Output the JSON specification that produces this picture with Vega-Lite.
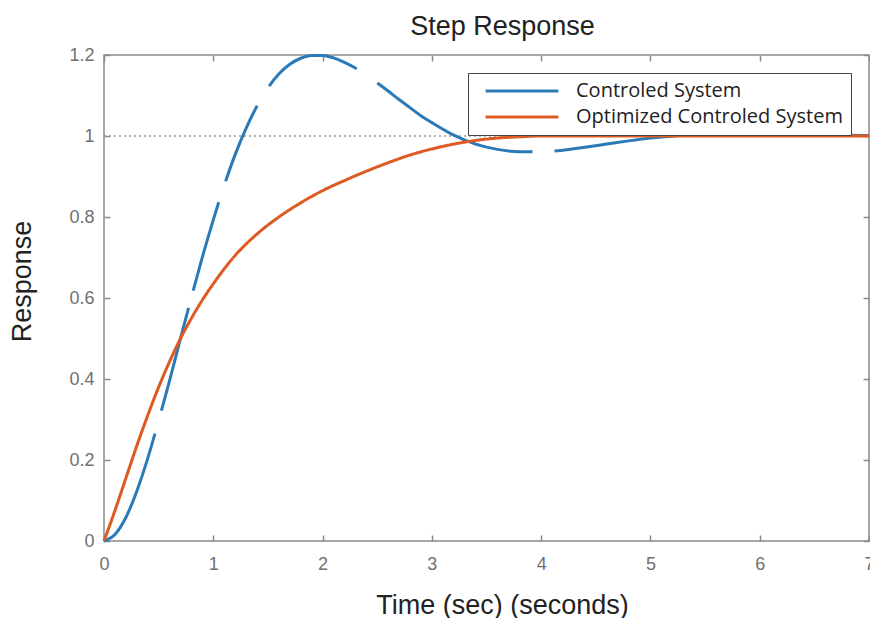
{
  "$schema": "https://vega.github.io/schema/vega-lite/v6.json",
  "width": 765,
  "height": 486,
  "autosize": {"type": "none"},
  "padding": {"left": 104, "top": 55, "right": 1, "bottom": 77},
  "background": "white",
  "title": {"text": "Step Response", "fontSize": 27, "font": "Liberation Sans", "fontWeight": "normal", "color": "#222222", "offset": 5, "dx": 16},
  "datasets": {
    "ref": [{"level": 1}],
    "resp": [
      {"t": 0, "y": 0, "series": "Controled System"},
      {"t": 0.1, "y": 0.016, "series": "Controled System"},
      {"t": 0.2, "y": 0.058, "series": "Controled System"},
      {"t": 0.3, "y": 0.123, "series": "Controled System"},
      {"t": 0.4, "y": 0.204, "series": "Controled System"},
      {"t": 0.5, "y": 0.297, "series": "Controled System"},
      {"t": 0.6, "y": 0.396, "series": "Controled System"},
      {"t": 0.7, "y": 0.5, "series": "Controled System"},
      {"t": 0.8, "y": 0.602, "series": "Controled System"},
      {"t": 0.9, "y": 0.701, "series": "Controled System"},
      {"t": 1.0, "y": 0.793, "series": "Controled System"},
      {"t": 1.1, "y": 0.878, "series": "Controled System"},
      {"t": 1.2, "y": 0.954, "series": "Controled System"},
      {"t": 1.3, "y": 1.019, "series": "Controled System"},
      {"t": 1.4, "y": 1.074, "series": "Controled System"},
      {"t": 1.5, "y": 1.119, "series": "Controled System"},
      {"t": 1.6, "y": 1.153, "series": "Controled System"},
      {"t": 1.7, "y": 1.177, "series": "Controled System"},
      {"t": 1.8, "y": 1.192, "series": "Controled System"},
      {"t": 1.9, "y": 1.199, "series": "Controled System"},
      {"t": 2.0, "y": 1.199, "series": "Controled System"},
      {"t": 2.1, "y": 1.193, "series": "Controled System"},
      {"t": 2.2, "y": 1.182, "series": "Controled System"},
      {"t": 2.3, "y": 1.168, "series": "Controled System"},
      {"t": 2.4, "y": 1.15, "series": "Controled System"},
      {"t": 2.5, "y": 1.131, "series": "Controled System"},
      {"t": 2.6, "y": 1.111, "series": "Controled System"},
      {"t": 2.7, "y": 1.09, "series": "Controled System"},
      {"t": 2.8, "y": 1.07, "series": "Controled System"},
      {"t": 2.9, "y": 1.05, "series": "Controled System"},
      {"t": 3.0, "y": 1.033, "series": "Controled System"},
      {"t": 3.2, "y": 1.002, "series": "Controled System"},
      {"t": 3.4, "y": 0.98, "series": "Controled System"},
      {"t": 3.6, "y": 0.967, "series": "Controled System"},
      {"t": 3.8, "y": 0.961, "series": "Controled System"},
      {"t": 4.0, "y": 0.961, "series": "Controled System"},
      {"t": 4.2, "y": 0.965, "series": "Controled System"},
      {"t": 4.4, "y": 0.972, "series": "Controled System"},
      {"t": 4.6, "y": 0.98, "series": "Controled System"},
      {"t": 4.8, "y": 0.988, "series": "Controled System"},
      {"t": 5.0, "y": 0.995, "series": "Controled System"},
      {"t": 5.5, "y": 1.004, "series": "Controled System"},
      {"t": 6.0, "y": 1.005, "series": "Controled System"},
      {"t": 6.5, "y": 1.003, "series": "Controled System"},
      {"t": 7.0, "y": 1.001, "series": "Controled System"},
      {"t": 0, "y": 0, "series": "Optimized Controled System"},
      {"t": 0.1, "y": 0.075, "series": "Optimized Controled System"},
      {"t": 0.2, "y": 0.155, "series": "Optimized Controled System"},
      {"t": 0.3, "y": 0.235, "series": "Optimized Controled System"},
      {"t": 0.4, "y": 0.31, "series": "Optimized Controled System"},
      {"t": 0.5, "y": 0.38, "series": "Optimized Controled System"},
      {"t": 0.6, "y": 0.443, "series": "Optimized Controled System"},
      {"t": 0.7, "y": 0.5, "series": "Optimized Controled System"},
      {"t": 0.8, "y": 0.55, "series": "Optimized Controled System"},
      {"t": 0.9, "y": 0.595, "series": "Optimized Controled System"},
      {"t": 1.0, "y": 0.635, "series": "Optimized Controled System"},
      {"t": 1.2, "y": 0.705, "series": "Optimized Controled System"},
      {"t": 1.4, "y": 0.758, "series": "Optimized Controled System"},
      {"t": 1.6, "y": 0.8, "series": "Optimized Controled System"},
      {"t": 1.8, "y": 0.835, "series": "Optimized Controled System"},
      {"t": 2.0, "y": 0.865, "series": "Optimized Controled System"},
      {"t": 2.2, "y": 0.89, "series": "Optimized Controled System"},
      {"t": 2.4, "y": 0.913, "series": "Optimized Controled System"},
      {"t": 2.6, "y": 0.934, "series": "Optimized Controled System"},
      {"t": 2.8, "y": 0.953, "series": "Optimized Controled System"},
      {"t": 3.0, "y": 0.968, "series": "Optimized Controled System"},
      {"t": 3.2, "y": 0.98, "series": "Optimized Controled System"},
      {"t": 3.4, "y": 0.989, "series": "Optimized Controled System"},
      {"t": 3.6, "y": 0.995, "series": "Optimized Controled System"},
      {"t": 3.8, "y": 0.998, "series": "Optimized Controled System"},
      {"t": 4.0, "y": 1.0, "series": "Optimized Controled System"},
      {"t": 4.5, "y": 1.0, "series": "Optimized Controled System"},
      {"t": 5.0, "y": 1.0, "series": "Optimized Controled System"},
      {"t": 5.5, "y": 1.0, "series": "Optimized Controled System"},
      {"t": 6.0, "y": 1.0, "series": "Optimized Controled System"},
      {"t": 6.5, "y": 1.0, "series": "Optimized Controled System"},
      {"t": 7.0, "y": 1.0, "series": "Optimized Controled System"}
    ]
  },
  "config": {
    "view": {"stroke": "#8a8a8a", "strokeWidth": 1.5},
    "axis": {
      "grid": false,
      "domain": false,
      "labelFlush": false,
      "tickColor": "#8a8a8a",
      "tickWidth": 1.5,
      "tickSize": -6,
      "labelFont": "Liberation Sans",
      "labelFontSize": 18,
      "labelColor": "#707070",
      "titleFont": "Liberation Sans",
      "titleFontSize": 27,
      "titleFontWeight": "normal",
      "titleColor": "#222222"
    }
  },
  "layer": [
    {
      "data": {"name": "ref"},
      "mark": {"type": "rule", "strokeDash": [2, 3], "color": "#9a9a9a", "strokeWidth": 1.5},
      "encoding": {
        "x": {"datum": 0, "type": "quantitative", "scale": {"domain": [0, 7], "nice": false},
              "axis": {"orient": "top", "values": [0, 1, 2, 3, 4, 5, 6, 7], "labels": false, "title": null}},
        "x2": {"datum": 7},
        "y": {"field": "level", "type": "quantitative", "scale": {"domain": [0, 1.2], "nice": false},
              "axis": {"orient": "right", "values": [0, 0.2, 0.4, 0.6, 0.8, 1, 1.2], "labels": false, "title": null}}
      }
    },
    {
      "data": {"name": "resp"},
      "mark": {"type": "line", "strokeWidth": 3, "interpolate": "monotone"},
      "encoding": {
        "x": {"field": "t", "type": "quantitative", "scale": {"domain": [0, 7], "nice": false},
              "axis": {"orient": "bottom", "values": [0, 1, 2, 3, 4, 5, 6, 7], "labelPadding": 20,
                       "title": "Time (sec) (seconds)", "titleX": 398, "titleY": 64, "titleBaseline": "middle", "titleAlign": "center", "titleAnchor": null}},
        "y": {"field": "y", "type": "quantitative", "scale": {"domain": [0, 1.2], "nice": false},
              "axis": {"orient": "left", "values": [0, 0.2, 0.4, 0.6, 0.8, 1, 1.2], "format": "~g", "labelPadding": 16,
                       "title": "Response", "titleX": -82, "titleY": 226, "titleBaseline": "middle", "titleAlign": "center", "titleAngle": -90, "titleAnchor": null}},
        "color": {
          "field": "series", "type": "nominal",
          "scale": {"domain": ["Controled System", "Optimized Controled System"], "range": ["#2a7ab8", "#dd5a22"]},
          "legend": {
            "title": null, "orient": "none", "legendX": 364, "legendY": 18,
            "symbolType": "stroke", "symbolSize": 5300, "symbolStrokeWidth": 3,
            "labelFont": "Open Sans", "labelFontSize": 20, "labelColor": "#222222", "labelLimit": 500,
            "labelOffset": 16, "symbolOffset": 8, "padding": 8, "rowPadding": 6,
            "strokeColor": "#444444", "fillColor": "white",
            "encode": {
              "symbols": {"update": {"y": {"value": 10}, "strokeDash": {"signal": "datum.value === 'Controled System' ? [24, 11, 38, 11] : [1, 0]"}}},
              "labels": {"update": {"y": {"value": 10}}}
            }
          }
        },
        "strokeDash": {
          "field": "series", "type": "nominal",
          "scale": {"domain": ["Controled System", "Optimized Controled System"],
                    "range": [[122, 24, 106, 18, 92, 22, 82, 23, 102, 25, 174, 22, 1000, 0], [1, 0]]},
          "legend": null
        }
      }
    }
  ],
  "resolve": {"axis": {"x": "independent", "y": "independent"}}
}
